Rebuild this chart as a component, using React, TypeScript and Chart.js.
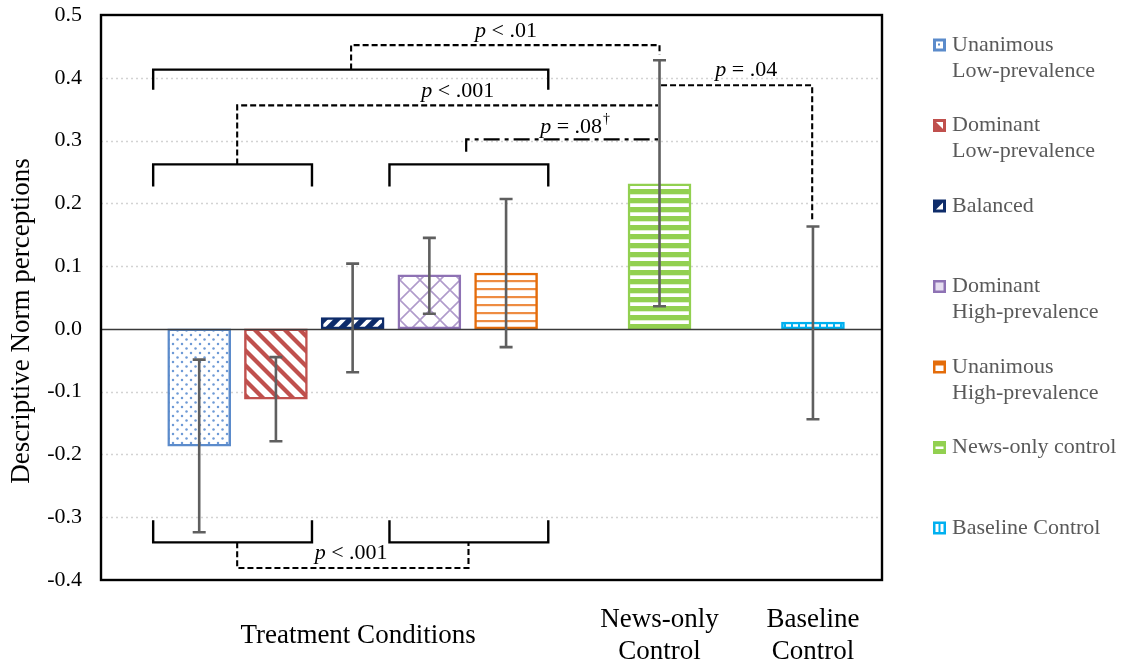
import React, { useEffect, useRef } from 'react';
import { Chart, registerables } from 'chart.js';

Chart.register(...registerables);

const FONT = '"Liberation Serif", "Times New Roman", Times, serif';

// ---- data ----
const seriesLabels: string[][] = [
  ['Unanimous', 'Low-prevalence'],
  ['Dominant', 'Low-prevalence'],
  ['Balanced'],
  ['Dominant', 'High-prevalence'],
  ['Unanimous', 'High-prevalence'],
  ['News-only control'],
  ['Baseline Control'],
];
const barSlots = [1, 2, 3, 4, 5, 7, 9];
const meanValues = [-0.187, -0.112, 0.018, 0.086, 0.089, 0.231, 0.011];
const errorUpper = [-0.049, -0.045, 0.104, 0.145, 0.207, 0.428, 0.163];
const errorLower = [-0.324, -0.179, -0.069, 0.024, -0.029, 0.036, -0.144];
const groupSlots = [3.07, 7, 9];
const groupLabels: string[][] = [['Treatment Conditions'], ['News-only', 'Control'], ['Baseline', 'Control']];
const yTickValues = [-0.4, -0.3, -0.2, -0.1, 0, 0.1, 0.2, 0.3, 0.4, 0.5];
const yAxisTitle = 'Descriptive Norm perceptions';

// significance brackets (slot, value) points
const bracketTopAll = [[0.4, 0.381], [0.4, 0.413], [5.55, 0.413], [5.55, 0.381]];
const bracketLowPair = [[0.4, 0.227], [0.4, 0.262], [2.47, 0.262], [2.47, 0.227]];
const bracketHighPair = [[3.48, 0.227], [3.48, 0.262], [5.55, 0.262], [5.55, 0.227]];
const bracketLowPairBottom = [[0.4, -0.305], [0.4, -0.34], [2.47, -0.34], [2.47, -0.305]];
const bracketHighPairBottom = [[3.48, -0.305], [3.48, -0.34], [5.55, -0.34], [5.55, -0.305]];
const linkAllVsNews = [[2.98, 0.413], [2.98, 0.452], [7.0, 0.452], [7.0, 0.437]];
const linkLowVsNews = [[1.495, 0.262], [1.495, 0.356], [6.98, 0.356]];
const linkHighVsNews = [[4.48, 0.282], [4.48, 0.302], [6.98, 0.302]];
const linkNewsVsBaseline = [[7.02, 0.388], [8.99, 0.388], [8.99, 0.174]];
const linkLowVsHigh = [[1.495, -0.34], [1.495, -0.381], [4.51, -0.381], [4.51, -0.34]];

const pLabelSlots = [5.0, 4.37, 5.9, 8.13, 2.98];
const pLabelValues = [0.474, 0.378, 0.321, 0.412, -0.358];
const pLabelTexts = [' < .01', ' < .001', ' = .08', ' = .04', ' < .001'];
const pLabelDagger = [false, false, true, false, false];

// ---- styles ----
const seriesColors = ['#5B8BCB', '#C0504D', '#0E2C6A', '#8E72B4', '#E46C0A', '#92D050', '#00B0F0'];

function makePattern(kind: number, color: string): CanvasPattern {
  const c = document.createElement('canvas');
  const g = c.getContext('2d') as CanvasRenderingContext2D;
  const fillBg = (w: number, h: number, col: string) => {
    c.width = w;
    c.height = h;
    g.fillStyle = col;
    g.fillRect(0, 0, w, h);
  };
  if (kind === 0) {
    fillBg(9, 9, '#ffffff');
    g.fillStyle = '#6E9AD6';
    [[2, 2], [6.5, 6.5]].forEach(([x, y]) => {
      g.beginPath();
      g.arc(x, y, 1.25, 0, Math.PI * 2);
      g.fill();
    });
  } else if (kind === 1) {
    fillBg(15, 15, '#ffffff');
    g.strokeStyle = color;
    g.lineWidth = 4.2;
    for (let k = -1; k <= 1; k++) {
      g.beginPath();
      g.moveTo(k * 15 - 2, -2);
      g.lineTo(k * 15 + 17, 17);
      g.stroke();
    }
  } else if (kind === 2) {
    fillBg(13, 13, color);
    g.strokeStyle = '#ffffff';
    g.lineWidth = 3.8;
    for (let k = -1; k <= 1; k++) {
      g.beginPath();
      g.moveTo(k * 13 - 2, 15);
      g.lineTo(k * 13 + 15, -2);
      g.stroke();
    }
  } else if (kind === 3) {
    fillBg(20, 20, '#ffffff');
    g.strokeStyle = '#B09BCB';
    g.lineWidth = 1.6;
    g.beginPath();
    g.moveTo(0, 0); g.lineTo(20, 20);
    g.moveTo(20, 0); g.lineTo(0, 20);
    g.stroke();
  } else if (kind === 4) {
    fillBg(8, 8, '#ffffff');
    g.fillStyle = '#EE8C42';
    g.fillRect(0, 0, 8, 2.2);
  } else if (kind === 5) {
    fillBg(8, 9, color);
    g.fillStyle = '#ffffff';
    g.fillRect(0, 5.3, 8, 3.7);
  } else {
    fillBg(7, 7, color);
    g.fillStyle = '#ffffff';
    g.fillRect(2, 0, 5, 7);
  }
  return g.createPattern(c, 'repeat') as CanvasPattern;
}

// small legend swatch: coloured square with a white motif hinting at the pattern
function drawSwatch(ctx: CanvasRenderingContext2D, kind: number, color: string, x: number, y: number) {
  const s = 13;
  ctx.save();
  ctx.fillStyle = color;
  ctx.fillRect(x, y, s, s);
  ctx.fillStyle = '#ffffff';
  if (kind === 0) {
    ctx.fillRect(x + 3, y + 3, 7, 7);
    ctx.fillStyle = color;
    ctx.fillRect(x + 5, y + 5, 2, 2);
  } else if (kind === 1 || kind === 2) {
    ctx.beginPath();
    if (kind === 1) {
      ctx.moveTo(x + 3, y + 3); ctx.lineTo(x + 10, y + 3); ctx.lineTo(x + 10, y + 10);
    } else {
      ctx.moveTo(x + 10, y + 3); ctx.lineTo(x + 10, y + 10); ctx.lineTo(x + 3, y + 10);
    }
    ctx.closePath();
    ctx.fill();
  } else if (kind === 3) {
    ctx.fillStyle = '#E6DEF0';
    ctx.fillRect(x + 2.5, y + 2.5, 8, 8);
  } else if (kind === 4) {
    ctx.fillRect(x + 2.5, y + 5, 8, 5.5);
  } else if (kind === 5) {
    ctx.fillRect(x + 2.5, y + 5.5, 8, 2.5);
  } else {
    ctx.fillRect(x + 2.5, y + 2.5, 3, 8);
    ctx.fillRect(x + 7.5, y + 2.5, 3, 8);
  }
  ctx.restore();
}

type Pt = number[];
function drawPath(chart: any, pts: Pt[], dash: number[], width: number) {
  const { ctx, scales } = chart;
  ctx.save();
  ctx.strokeStyle = '#000000';
  ctx.lineWidth = width;
  ctx.setLineDash(dash);
  ctx.lineCap = 'butt';
  ctx.lineJoin = 'miter';
  ctx.beginPath();
  pts.forEach((p, i) => {
    const px = scales.x.getPixelForValue(p[0]);
    const py = scales.y.getPixelForValue(p[1]);
    if (i === 0) ctx.moveTo(px, py);
    else ctx.lineTo(px, py);
  });
  ctx.stroke();
  ctx.restore();
}

export default function App() {
  const ref = useRef<HTMLCanvasElement | null>(null);

  useEffect(() => {
    const canvas = ref.current;
    if (!canvas) return;
    const patterns = seriesColors.map((c, i) => makePattern(i, c));

    const overlay = {
      id: 'overlay',
      beforeDatasetsDraw(chart: any) {
        const { ctx, chartArea: a, scales } = chart;
        ctx.save();
        ctx.strokeStyle = '#D3D3D3';
        ctx.lineWidth = 1.6;
        ctx.setLineDash([2, 3]);
        yTickValues.forEach((v) => {
          if (v === 0 || v === 0.5 || v === -0.4) return;
          const py = Math.round(scales.y.getPixelForValue(v)) + 0.5;
          ctx.beginPath();
          ctx.moveTo(a.left, py);
          ctx.lineTo(a.right, py);
          ctx.stroke();
        });
        ctx.restore();
      },
      afterDatasetsDraw(chart: any) {
        const { ctx, chartArea: a, scales } = chart;
        const x = scales.x;
        const y = scales.y;
        // zero line
        ctx.save();
        ctx.strokeStyle = '#3A3A3A';
        ctx.lineWidth = 1.3;
        const zy = Math.round(y.getPixelForValue(0)) + 0.5;
        ctx.beginPath();
        ctx.moveTo(a.left, zy);
        ctx.lineTo(a.right, zy);
        ctx.stroke();
        ctx.restore();

        // error bars
        ctx.save();
        ctx.strokeStyle = '#5F5F5F';
        ctx.lineWidth = 2.6;
        barSlots.forEach((s, i) => {
          const px = x.getPixelForValue(s);
          const yt = y.getPixelForValue(errorUpper[i]);
          const yb = y.getPixelForValue(errorLower[i]);
          ctx.beginPath();
          ctx.moveTo(px, yt);
          ctx.lineTo(px, yb);
          ctx.moveTo(px - 6.5, yt);
          ctx.lineTo(px + 6.5, yt);
          ctx.moveTo(px - 6.5, yb);
          ctx.lineTo(px + 6.5, yb);
          ctx.stroke();
        });
        ctx.restore();

        // brackets
        [bracketTopAll, bracketLowPair, bracketHighPair, bracketLowPairBottom, bracketHighPairBottom].forEach((p) =>
          drawPath(chart, p, [], 2.4)
        );
        [linkAllVsNews, linkLowVsNews, linkNewsVsBaseline, linkLowVsHigh].forEach((p) => drawPath(chart, p, [6, 3], 2.1));
        drawPath(chart, linkHighVsNews, [16, 5, 4, 5], 2.2);

        // p labels
        ctx.save();
        ctx.fillStyle = '#000000';
        ctx.textBaseline = 'middle';
        ctx.textAlign = 'left';
        pLabelTexts.forEach((t, i) => {
          const cx = x.getPixelForValue(pLabelSlots[i]);
          const cy = y.getPixelForValue(pLabelValues[i]);
          ctx.font = `italic 22px ${FONT}`;
          const wp = ctx.measureText('p').width;
          ctx.font = `22px ${FONT}`;
          const wt = ctx.measureText(t).width;
          ctx.font = `14px ${FONT}`;
          const wd = pLabelDagger[i] ? ctx.measureText('†').width + 1 : 0;
          let sx = cx - (wp + wt + wd) / 2;
          ctx.font = `italic 22px ${FONT}`;
          ctx.fillText('p', sx, cy);
          sx += wp;
          ctx.font = `22px ${FONT}`;
          ctx.fillText(t, sx, cy);
          sx += wt + 1;
          if (pLabelDagger[i]) {
            ctx.font = `14px ${FONT}`;
            ctx.fillText('†', sx, cy - 8);
          }
        });
        ctx.restore();

        // frame
        ctx.save();
        ctx.strokeStyle = '#000000';
        ctx.lineWidth = 2.4;
        ctx.strokeRect(a.left, a.top, a.right - a.left, a.bottom - a.top);
        ctx.restore();

        // legend
        ctx.save();
        seriesLabels.forEach((lines, i) => {
          const cy = 45 + i * 80.5;
          drawSwatch(ctx, i, seriesColors[i], 933, cy - 6.5);
          ctx.fillStyle = '#595959';
          ctx.font = `22px ${FONT}`;
          ctx.textBaseline = 'middle';
          ctx.textAlign = 'left';
          lines.forEach((l, j) => ctx.fillText(l, 952, cy + j * 26));
        });
        ctx.restore();

        // y axis title
        ctx.save();
        ctx.translate(22, 321);
        ctx.rotate(-Math.PI / 2);
        ctx.fillStyle = '#000000';
        ctx.font = `27px ${FONT}`;
        ctx.textAlign = 'center';
        ctx.textBaseline = 'middle';
        ctx.fillText(yAxisTitle, 0, 0);
        ctx.restore();
      },
    };

    const chart = new Chart(canvas, {
      type: 'bar',
      data: {
        datasets: [
          {
            label: 'Descriptive norm',
            data: barSlots.map((s, i) => ({ x: s, y: meanValues[i] })),
            backgroundColor: patterns as any,
            borderColor: seriesColors,
            borderWidth: 2.5,
            borderSkipped: false,
            barThickness: 63,
          } as any,
        ],
      },
      options: {
        animation: false,
        responsive: false,
        layout: { padding: { top: 15, right: 249, left: 0, bottom: 0 } },
        plugins: { legend: { display: false }, tooltip: { enabled: false } },
        scales: {
          x: {
            type: 'linear',
            min: -0.28,
            max: 9.9,
            offset: false,
            grid: { display: false, drawTicks: false },
            border: { display: false },
            afterBuildTicks: (s: any) => {
              s.ticks = groupSlots.map((v) => ({ value: v }));
            },
            afterFit: (s: any) => {
              s.height = 85;
              s.paddingLeft = 0;
              s.paddingRight = 0;
            },
            ticks: {
              autoSkip: false,
              maxRotation: 0,
              minRotation: 0,
              crossAlign: 'center',
              padding: 40,
              color: '#000000',
              font: { family: FONT, size: 27, lineHeight: 1.19 },
              callback: (_v: any, i: number) => groupLabels[i],
            },
          } as any,
          y: {
            type: 'linear',
            min: -0.4,
            max: 0.5,
            grid: { display: false, drawTicks: false },
            border: { display: false },
            afterBuildTicks: (s: any) => {
              s.ticks = yTickValues.map((v) => ({ value: v }));
            },
            afterFit: (s: any) => {
              s.width = 101;
              s.paddingTop = 0;
              s.paddingBottom = 0;
            },
            ticks: {
              padding: 19,
              color: '#000000',
              font: { family: FONT, size: 22 },
              callback: (v: any) => Number(v).toFixed(1),
            },
          } as any,
        },
      },
      plugins: [overlay],
    });
    return () => chart.destroy();
  }, []);

  return (
    <div style={{ position: 'fixed', left: 0, top: 0, width: 1131, height: 665, background: '#ffffff' }}>
      <canvas ref={ref} width={1131} height={665} style={{ display: 'block' }} />
    </div>
  );
}
